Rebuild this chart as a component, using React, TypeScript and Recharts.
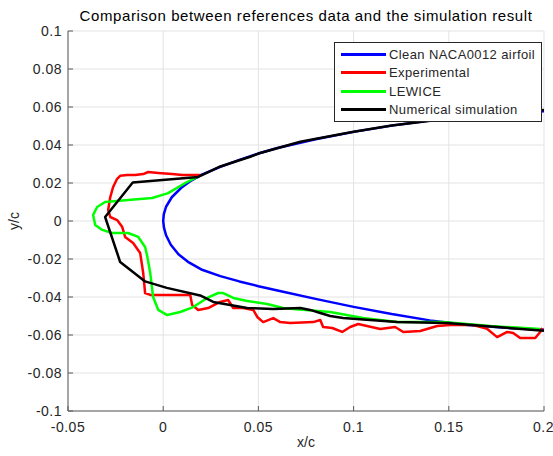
import React from "react";
import { LineChart, Line, XAxis, YAxis, CartesianGrid, Legend } from "recharts";

// values (x/c, y/c)
const cleanX = [0.2, 0.18, 0.16, 0.14, 0.12, 0.1, 0.08, 0.06, 0.05, 0.04, 0.03, 0.02, 0.014, 0.0095, 0.0045, 0.0015, 0.0003, 0, 0.0004, 0.0015, 0.004, 0.008, 0.013, 0.02, 0.03, 0.04, 0.05, 0.063, 0.08, 0.1, 0.12, 0.14, 0.16, 0.18, 0.2];
const cleanY = [0.0578, 0.0566, 0.0551, 0.0529, 0.0502, 0.0469, 0.043, 0.0384, 0.0355, 0.0322, 0.0285, 0.0243, 0.0208, 0.0175, 0.0125, 0.0075, 0.0035, 0, -0.0035, -0.0075, -0.0125, -0.0175, -0.0215, -0.0255, -0.029, -0.0318, -0.0343, -0.0372, -0.041, -0.0452, -0.049, -0.0523, -0.0547, -0.0562, -0.0573];

const expX = [0.0194, 0.01, 0.0047, -0.0026, -0.0079, -0.0105, -0.0147, -0.0189, -0.0226, -0.0242, -0.0263, -0.0278, -0.0289, -0.0278, -0.0242, -0.0215, -0.02, -0.0158, -0.0121, -0.0105, -0.0095, -0.0068, 0.0142, 0.0152, 0.0184, 0.0236, 0.0299, 0.0341, 0.0368, 0.042, 0.0473, 0.0494, 0.0525, 0.0578, 0.0615, 0.0667, 0.0788, 0.0825, 0.084, 0.0888, 0.094, 0.0982, 0.1024, 0.114, 0.1218, 0.1261, 0.135, 0.1439, 0.1507, 0.1628, 0.1702, 0.1754, 0.1807, 0.1838, 0.1875, 0.1954, 0.198, 0.1991];
const expY = [0.0242, 0.0242, 0.0247, 0.0253, 0.0258, 0.0247, 0.0242, 0.0242, 0.0238, 0.0222, 0.0179, 0.0126, 0.0058, 0.0021, 0.0005, -0.0032, -0.0084, -0.0116, -0.0168, -0.0274, -0.0379, -0.0389, -0.0389, -0.0442, -0.0468, -0.0458, -0.0426, -0.0416, -0.0458, -0.0458, -0.0468, -0.0505, -0.0532, -0.0511, -0.0532, -0.0537, -0.0532, -0.0521, -0.0558, -0.0563, -0.0584, -0.0558, -0.0542, -0.0568, -0.0558, -0.0584, -0.0579, -0.0553, -0.0547, -0.0547, -0.0568, -0.0611, -0.0584, -0.0589, -0.0616, -0.0616, -0.0584, -0.0563];

const lewiceX = [0.0179, 0.0116, 0.0026, -0.0058, -0.0184, -0.0305, -0.0347, -0.0368, -0.0357, -0.032, -0.0268, -0.0184, -0.0131, -0.0095, -0.0084, -0.0068, -0.0053, -0.0026, 0.0021, 0.0089, 0.0158, 0.0231, 0.0289, 0.0315, 0.0368, 0.0441, 0.0546, 0.063, 0.0683, 0.0877, 0.105, 0.1229, 0.1471, 0.1717, 0.198];
const lewiceY = [0.0232, 0.02, 0.0147, 0.0121, 0.0111, 0.01, 0.0074, 0.0032, -0.0021, -0.0047, -0.0063, -0.0063, -0.0084, -0.0137, -0.0184, -0.0274, -0.04, -0.0468, -0.0495, -0.0479, -0.0453, -0.0405, -0.0379, -0.0379, -0.0405, -0.0421, -0.0437, -0.0458, -0.0463, -0.0479, -0.0511, -0.0532, -0.0532, -0.0553, -0.0568];

const numX = [0.2, 0.18, 0.15, 0.12, 0.1, 0.072, 0.05, 0.0457, 0.03, 0.0184, -0.016, -0.0305, -0.0226, -0.0095, 0.0019, 0.0194, 0.0263, 0.0441, 0.0578, 0.072, 0.0772, 0.0825, 0.0877, 0.0945, 0.1229, 0.149, 0.1754, 0.2];
const numY = [0.0584, 0.057, 0.054, 0.0503, 0.047, 0.0417, 0.0355, 0.0338, 0.0287, 0.0232, 0.0203, 0.0021, -0.0216, -0.0318, -0.0352, -0.0392, -0.0426, -0.0458, -0.0463, -0.0458, -0.0468, -0.0484, -0.05, -0.051, -0.0532, -0.0537, -0.0558, -0.0578];

const xTicks = [-0.05, 0, 0.05, 0.1, 0.15, 0.2];
const yTicks = [-0.1, -0.08, -0.06, -0.04, -0.02, 0, 0.02, 0.04, 0.06, 0.08, 0.1];

const zip = (xs: number[], ys: number[]) => xs.map((x, i) => ({ x, y: ys[i] }));

const series = [
  { name: "Clean NACA0012 airfoil", color: "#0000ff", data: zip(cleanX, cleanY) },
  { name: "Experimental", color: "#ff0000", data: zip(expX, expY) },
  { name: "LEWICE", color: "#00ff00", data: zip(lewiceX, lewiceY) },
  { name: "Numerical simulation", color: "#000000", data: zip(numX, numY) },
];

const FONT = '"Liberation Sans", Arial, sans-serif';
const AXIS = "#5a5a5a";
const TXT = "#262626";
const tickStyle = { fill: TXT, fontSize: 14, fontFamily: FONT, letterSpacing: 0.5 };

const LegendBox = ({ payload }: any) => (
  <div style={{ border: "1px solid #262626", background: "#fff", padding: "2px 0 2px 0", width: 206, fontFamily: FONT }}>
    {(payload || []).map((p: any) => (
      <div key={p.value} style={{ display: "flex", alignItems: "center", height: 18.5 }}>
        <div style={{ width: 45, height: 3, background: p.color, marginLeft: 6, marginRight: 3 }} />
        <span style={{ fontSize: 13, letterSpacing: 0.4, color: TXT }}>{p.value}</span>
      </div>
    ))}
  </div>
);

export default function App() {
  return (
    <div style={{ position: "absolute", left: 0, top: 0, width: 553, height: 456, background: "#fff", fontFamily: FONT }}>
      <div style={{ position: "absolute", left: 60, width: 492, top: 7, textAlign: "center", fontSize: 15, letterSpacing: 0.6, color: "#000" }}>
        Comparison between references data and the simulation result
      </div>
      <LineChart width={553} height={456} margin={{ top: 31, right: 9, bottom: 0, left: 0 }}>
        <CartesianGrid stroke="#e3e3e3" strokeWidth={1} />
        <XAxis
          type="number"
          dataKey="x"
          domain={[-0.05, 0.2]}
          ticks={xTicks}
          allowDataOverflow
          height={45}
          tickSize={-5}
          tickMargin={16}
          stroke={AXIS}
          tick={tickStyle}
          tickFormatter={(v: number) => String(v)}
          label={{ value: "x/c", position: "insideBottom", offset: 9, fill: TXT, fontSize: 14, fontFamily: FONT }}
        />
        <XAxis
          xAxisId="top"
          orientation="top"
          type="number"
          dataKey="x"
          domain={[-0.05, 0.2]}
          ticks={xTicks}
          allowDataOverflow
          height={0}
          tickSize={-5}
          stroke={AXIS}
          tick={() => <g />}
        />
        <YAxis
          type="number"
          domain={[-0.1, 0.1]}
          ticks={yTicks}
          allowDataOverflow
          width={68}
          tickSize={-5}
          tickMargin={11}
          stroke={AXIS}
          tick={tickStyle}
          tickFormatter={(v: number) => String(v)}
          label={{ value: "y/c", angle: -90, position: "insideLeft", offset: 14, fill: TXT, fontSize: 14, fontFamily: FONT, style: { textAnchor: "middle" } }}
        />
        <YAxis
          yAxisId="right"
          orientation="right"
          type="number"
          domain={[-0.1, 0.1]}
          ticks={yTicks}
          allowDataOverflow
          width={0}
          tickSize={-5}
          stroke={AXIS}
          tick={() => <g />}
        />
        {series.map((s) => (
          <Line
            key={s.name}
            data={s.data}
            dataKey="y"
            name={s.name}
            type="linear"
            stroke={s.color}
            strokeWidth={2.5}
            strokeLinejoin="round"
            dot={false}
            isAnimationActive={false}
          />
        ))}
        <Legend
          layout="vertical"
          align="center"
          verticalAlign="middle"
          wrapperStyle={{ position: "absolute", top: 42, left: 334, width: 208 }}
          content={<LegendBox />}
        />
      </LineChart>
    </div>
  );
}
